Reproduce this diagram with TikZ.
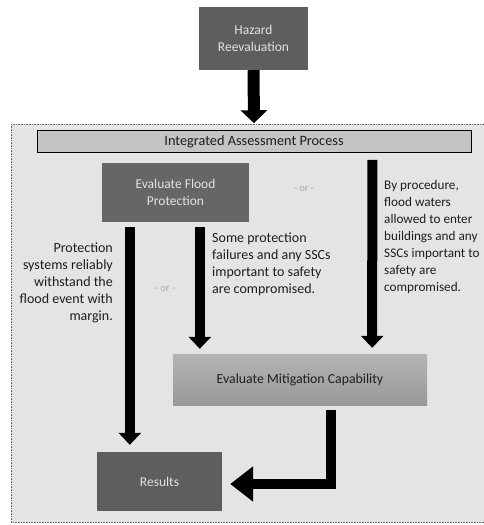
\documentclass[tikz,border=0pt]{standalone}
\usepackage{fontspec}
\setmainfont{Carlito}
\usetikzlibrary{arrows.meta,calc}
\definecolor{panelbg}{HTML}{E4E4E4}
\definecolor{darkbox}{HTML}{5E5E5E}
\definecolor{floodbox}{HTML}{666666}
\definecolor{barfill}{HTML}{C4C4C4}
\definecolor{mittop}{HTML}{B4B4B4}
\definecolor{mitbot}{HTML}{989898}
\definecolor{lighttext}{HTML}{E2E2E2}
\definecolor{ortext}{HTML}{ABABAB}
\definecolor{bodytext}{HTML}{1E1E1E}
\begin{document}
\begin{tikzpicture}[x=1pt,y=-1pt,
  darkstyle/.style={fill=darkbox,draw=none,text=lighttext,align=center,font=\fontsize{13.5}{17}\selectfont,inner sep=0pt},
  barstyle/.style={fill=barfill,draw=black,line width=0.6pt,text=bodytext,font=\fontsize{14.3}{16}\selectfont,inner sep=0pt},
  mitstyle/.style={top color=mittop,bottom color=mitbot,draw=none,text=bodytext,font=\fontsize{13.8}{16}\selectfont,inner sep=0pt},
  bodystyle/.style={text=bodytext,font=\fontsize{14}{17}\selectfont,inner sep=0pt},
  orstyle/.style={text=ortext,font=\fontsize{10.5}{12}\selectfont,inner sep=0pt},
  bigarrow/.style={draw=black,line width=10pt,-{Triangle[width=22pt,length=12pt]}},
  toparrow/.style={draw=black,line width=12pt,-{Triangle[width=26pt,length=13pt]}},
  elbowarrow/.style={draw=black,line width=10pt,-{Triangle[width=34pt,length=23pt]}}
]
\useasboundingbox (0,0) rectangle (483,525);
\fill[white] (0,0) rectangle (483,525);
% panel
\draw[densely dotted,draw=gray!80!black,line width=0.6pt,fill=panelbg] (11,124) rectangle (495,522);
% boxes
\node[darkstyle,minimum width=109pt,minimum height=63pt] (haz) at (253.5,38.5) {Hazard\\Reevaluation};
\node[barstyle,minimum width=434pt,minimum height=22pt] (bar) at (254,141.5) {Integrated Assessment Process};
\node[darkstyle,fill=floodbox,minimum width=147pt,minimum height=59pt] (flood) at (175.5,192.5) {Evaluate Flood\\Protection};
\node[mitstyle,minimum width=254pt,minimum height=51pt] (mit) at (300,379.5) {Evaluate Mitigation Capability};
\node[darkstyle,minimum width=125pt,minimum height=59pt] (res) at (159.5,481.5) {Results};
% labels
\node[bodystyle,align=right,anchor=east] (ltext) at (113,283) {Protection\\systems reliably\\withstand the\\flood event with\\margin.};
\node[bodystyle,align=left,anchor=west] (mtext) at (212,264.5) {Some protection\\failures and any SSCs\\important to safety\\are compromised.};
\node[bodystyle,font=\fontsize{13.2}{17}\selectfont,align=left,anchor=west] (rtext) at (384,236.5) {By procedure,\\flood waters\\allowed to enter\\buildings and any\\SSCs important to\\safety are\\compromised.};
\node[orstyle] (or1) at (304,189) {- or -};
\node[orstyle] (or2) at (165,289) {- or -};
% arrows
\draw[toparrow] (haz.south) -- ([yshift=7pt]bar.north);
\draw[bigarrow] ($(flood.south west)+(28,5)$) -- ($(res.north west)+(33,-7)$);
\draw[bigarrow] ($(flood.south west)+(98,5)$) -- ($(mit.north west)+(27,-5)$);
\draw[bigarrow] ($(bar.south east)+(-99,7)$) -- ($(mit.north east)+(-55,-6)$);
\draw[elbowarrow] ($(mit.south east)+(-96,5)$) |- ($(res.east)+(8,2.5)$);
\end{tikzpicture}
\end{document}
